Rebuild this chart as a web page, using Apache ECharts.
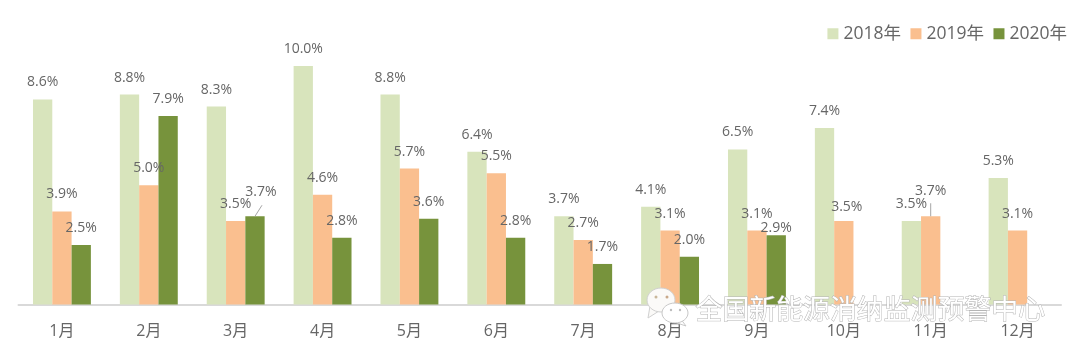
<!DOCTYPE html>
<html>
<head>
<meta charset="utf-8">
<script src="https://cdn.jsdelivr.net/npm/echarts@6/dist/echarts.min.js"></script>
<style>
html, body { margin: 0; padding: 0; background: #fff; }
#main { width: 1080px; height: 357px; }
</style>
</head>
<body>
<div id="main"></div>
<script>
const months = ['1月', '2月', '3月', '4月', '5月', '6月', '7月', '8月', '9月', '10月', '11月', '12月'];
const values2018 = [8.6, 8.8, 8.3, 10.0, 8.8, 6.4, 3.7, 4.1, 6.5, 7.4, 3.5, 5.3];
const values2019 = [3.9, 5.0, 3.5, 4.6, 5.7, 5.5, 2.7, 3.1, 3.1, 3.5, 3.7, 3.1];
const values2020 = [2.5, 7.9, 3.7, 2.8, 3.6, 2.8, 1.7, 2.0, 2.9, null, null, null];
const watermarkText = '全国新能源消纳监测预警中心';

const font = '"Open Sans", "Noto Sans CJK SC", sans-serif';
const textColor = '#666666';
const barWidth = 19.3;

// labels that were dragged by hand in the original: [series, month index, dx, dy]
const movedLabels = [
    [1, 9, 3, 3],
    [1, 10, 0, -8],
    [2, 2, 6, -7],
    [2, 8, 0, 10]
];
// leader lines of two of them: [series, month index, value, end dx, end dy]
const leaderLines = [
    [1, 10, 3.7, 0, -13],
    [2, 2, 3.7, 7, -11]
];

function makeSeries(name, values, color) {
    return {
        name: name,
        type: 'bar',
        barWidth: barWidth,
        barGap: 0,
        data: values,
        itemStyle: { color: color },
        label: {
            show: true,
            position: 'top',
            distance: 10,
            color: textColor,
            fontFamily: font,
            fontSize: 14,
            formatter: p => p.value.toFixed(1) + '%'
        },
        labelLayout: function (params) {
            let moved = movedLabels.find(m => m[0] == params.seriesIndex && m[1] == params.dataIndex);
            return moved ? { dx: moved[2], dy: moved[3] } : {};
        }
    };
}

var myChart = echarts.init(document.getElementById('main'), null, { renderer: 'canvas' });

myChart.setOption({
    animation: false,
    backgroundColor: '#fff',
    grid: { left: 18.5, right: 19, top: 66, bottom: 52.5, containLabel: false },
    legend: {
        top: 20,
        right: 8,
        itemWidth: 11,
        itemHeight: 11,
        itemGap: 9.5,
        icon: 'rect',
        textStyle: { color: textColor, fontFamily: font, fontSize: 17.5 },
        data: ['2018年', '2019年', '2020年']
    },
    xAxis: {
        type: 'category',
        data: months,
        axisTick: { show: false },
        axisLine: { lineStyle: { color: '#d9d9d9', width: 2 } },
        axisLabel: { color: textColor, fontFamily: font, fontSize: 16, margin: 19 }
    },
    yAxis: { type: 'value', min: 0, max: 10, show: false },
    series: [
        makeSeries('2018年', values2018, '#d8e4bc'),
        makeSeries('2019年', values2019, '#fabf8f'),
        makeSeries('2020年', values2020, '#77933c')
    ]
});

// leader lines start at the top of their bar, taken from the chart's own scales
let leaders = leaderLines.map(l => {
    let p = myChart.convertToPixel({ xAxisIndex: 0, yAxisIndex: 0 }, [l[1], l[2]]);
    let x = p[0] + (l[0] - 1) * barWidth;
    return {
        type: 'line',
        z: 15,
        shape: { x1: x, y1: p[1], x2: x + l[3], y2: p[1] + l[4] },
        style: { stroke: '#a6a6a6', lineWidth: 1 }
    };
});

// watermark on top of the chart
let watermark = [
    { type: 'polygon', z: 20, shape: { points: [[650, 306], [648, 318], [659, 311]] }, style: { fill: '#fbfaf8', stroke: '#d0d0d0', lineWidth: 1 } },
    { type: 'ellipse', z: 20, shape: { cx: 661, cy: 300, rx: 14, ry: 12 }, style: { fill: '#fbfaf8', stroke: '#d0d0d0', lineWidth: 1 } },
    { type: 'polygon', z: 21, shape: { points: [[680, 318], [686, 326], [674, 322]] }, style: { fill: '#ffffff', stroke: '#c8c8c8', lineWidth: 1 } },
    { type: 'ellipse', z: 21, shape: { cx: 675, cy: 313, rx: 13, ry: 10 }, style: { fill: '#ffffff', stroke: '#c8c8c8', lineWidth: 1 } },
    { type: 'circle', z: 22, shape: { cx: 656, cy: 297, r: 1.5 }, style: { fill: '#c9b79a' } },
    { type: 'circle', z: 22, shape: { cx: 667, cy: 297, r: 1.5 }, style: { fill: '#c9a98a' } },
    { type: 'circle', z: 22, shape: { cx: 671, cy: 310, r: 1.2 }, style: { fill: '#bdbdbd' } },
    { type: 'circle', z: 22, shape: { cx: 680, cy: 310, r: 1.2 }, style: { fill: '#bdbdbd' } },
    {
        type: 'text',
        z: 25,
        left: 695,
        top: 295,
        style: {
            text: watermarkText,
            fill: '#ffffff',
            stroke: '#b5b5b5',
            lineWidth: 1,
            fontFamily: '"Noto Sans CJK SC", sans-serif',
            fontSize: 26.9
        }
    }
];

myChart.setOption({ graphic: leaders.concat(watermark) });
</script>
</body>
</html>
